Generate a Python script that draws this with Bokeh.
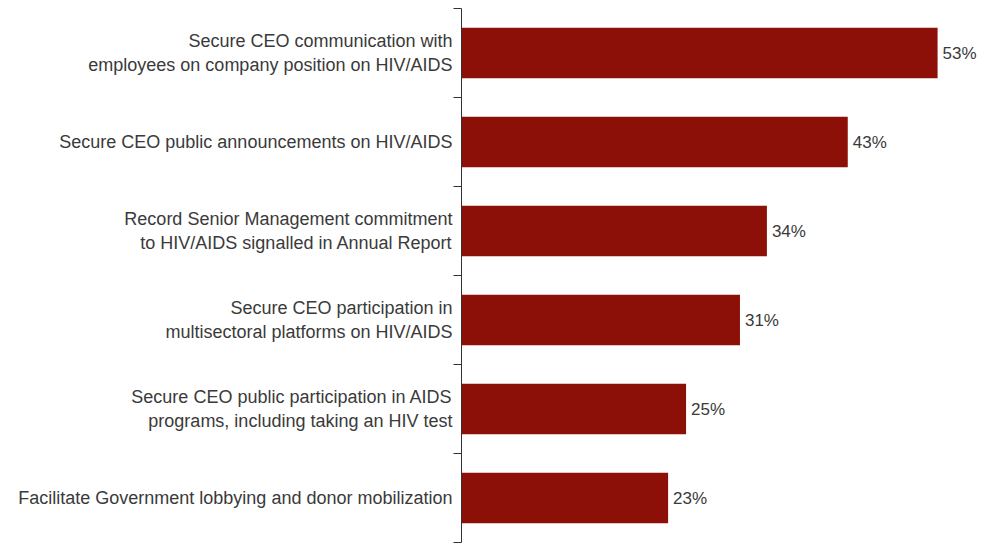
from bokeh.plotting import figure
from bokeh.models import Range1d, FixedTicker, ColumnDataSource
from bokeh.core.properties import value
from bokeh.embed import file_html
from bokeh.resources import INLINE

categories = [
    "Secure CEO communication with\nemployees on company position on HIV/AIDS",
    "Secure CEO public announcements on HIV/AIDS",
    "Record Senior Management commitment\nto HIV/AIDS signalled in Annual Report",
    "Secure CEO participation in\nmultisectoral platforms on HIV/AIDS",
    "Secure CEO public participation in AIDS\nprograms, including taking an HIV test",
    "Facilitate Government lobbying and donor mobilization",
]
values = [53, 43, 34, 31, 25, 23]
value_labels = ["53%", "43%", "34%", "31%", "25%", "23%"]

n = len(categories)
centers = [i + 0.5 for i in range(n)]
bounds = [float(i) for i in range(n + 1)]

src = ColumnDataSource(dict(y=centers, v=values, lab=value_labels))

p = figure(width=982, height=543, output_backend="svg", toolbar_location=None,
           x_range=Range1d(0, 58), y_range=Range1d(n, 0),
           min_border_left=461, min_border_right=0, min_border_top=8, min_border_bottom=1)
p.outline_line_color = None
p.grid.visible = False
p.xaxis.visible = False
p.background_fill_color = "white"
p.border_fill_color = "white"

p.hbar(y="y", right="v", left=0, height=0.57, source=src,
       fill_color="#8C1007", line_color=None)
p.text(x="v", y="y", text="lab", source=src, x_offset=5,
       text_baseline="middle", text_align="left",
       text_font=value("Liberation Sans"), text_font_size="17px", text_color="#3a3a3a")

ax = p.yaxis[0]
ax.ticker = FixedTicker(ticks=centers, minor_ticks=bounds)
ax.major_label_overrides = {c: lab for c, lab in zip(centers, categories)}
ax.major_tick_out = 0
ax.major_tick_in = 0
ax.minor_tick_out = 8
ax.minor_tick_in = 0
ax.minor_tick_line_color = "#333333"
ax.axis_line_color = "#333333"
ax.major_label_standoff = 1
ax.major_label_text_font = "Liberation Sans"
ax.major_label_text_font_size = "18px"
ax.major_label_text_color = "#3a3a3a"

open("out.html", "w").write(file_html(p, INLINE))
